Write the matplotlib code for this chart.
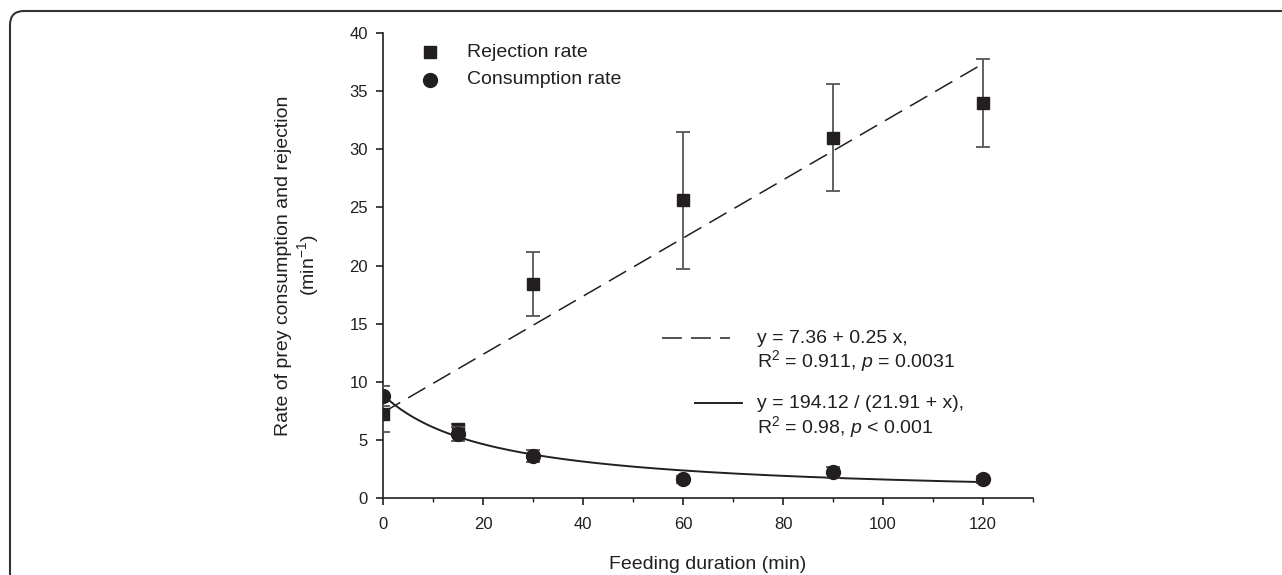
import matplotlib
matplotlib.use("Agg")
import matplotlib.pyplot as plt
import numpy as np
from matplotlib.patches import FancyBboxPatch
from matplotlib.transforms import IdentityTransform
from matplotlib.ticker import MultipleLocator

# data
duration = [0, 15, 30, 60, 90, 120]
rejection = [7.2, 5.9, 18.4, 25.6, 31.0, 34.0]
rejection_err = [1.5, 0.5, 2.75, 5.9, 4.6, 3.8]
consumption = [8.8, 5.5, 3.6, 1.6, 2.2, 1.6]
consumption_err = [0.85, 0.6, 0.5, 0.3, 0.5, 0.3]

# fitted models shown in the figure
lin_a, lin_b = 7.36, 0.25
hyp_a, hyp_b = 194.12, 21.91

plt.rcParams['font.family'] = ['Liberation Sans', 'DejaVu Sans']
plt.rcParams['mathtext.fontset'] = 'custom'
plt.rcParams['mathtext.rm'] = 'Liberation Sans'
plt.rcParams['mathtext.it'] = 'Liberation Sans:italic'

ink = '#231f20'
bar_col = '#555555'
fs = 14

fig = plt.figure(figsize=(12.82, 5.75), dpi=100)
ax = fig.add_axes([0.2988, 0.1339, 0.507, 0.8087])

xfit = np.linspace(0, 120, 200)
ax.plot(xfit, lin_a + lin_b * xfit, color=ink, lw=1.1, ls=(0, (13, 6)), zorder=2)
ax.plot(xfit, hyp_a / (hyp_b + xfit), color=ink, lw=1.4, zorder=2)

ax.errorbar(duration, rejection, yerr=rejection_err, fmt='s', ms=8, color=ink,
            ecolor=bar_col, elinewidth=1.3, capsize=5, capthick=1.3, zorder=3)
ax.errorbar(duration, consumption, yerr=consumption_err, fmt='o', ms=10, color=ink,
            ecolor=bar_col, elinewidth=1.3, capsize=5, capthick=1.3, zorder=4)

# legend drawn by hand like the original
ax.plot([0.072], [0.959], 's', ms=8, color=ink, transform=ax.transAxes, clip_on=False)
ax.plot([0.072], [0.899], 'o', ms=10, color=ink, transform=ax.transAxes, clip_on=False)
ax.text(0.129, 0.959, 'Rejection rate', transform=ax.transAxes, va='center', fontsize=fs, color=ink)
ax.text(0.129, 0.899, 'Consumption rate', transform=ax.transAxes, va='center', fontsize=fs, color=ink)

# fit equations
ax.plot([0.429, 0.534], [0.344, 0.344], color=ink, lw=1.1, ls=(0, (13, 6)), transform=ax.transAxes)
ax.plot([0.480, 0.552], [0.204, 0.204], color=ink, lw=1.4, transform=ax.transAxes)
ax.text(0.575, 0.344, 'y = 7.36 + 0.25 x,', transform=ax.transAxes, va='center', fontsize=fs, color=ink)
ax.text(0.575, 0.295, r'R$^{\mathregular{2}}$ = 0.911, $\mathit{p}$ = 0.0031', transform=ax.transAxes,
        va='center', fontsize=fs, color=ink)
ax.text(0.575, 0.204, 'y = 194.12 / (21.91 + x),', transform=ax.transAxes, va='center', fontsize=fs, color=ink)
ax.text(0.575, 0.152, r'R$^{\mathregular{2}}$ = 0.98, $\mathit{p}$ < 0.001', transform=ax.transAxes,
        va='center', fontsize=fs, color=ink)

ax.set_xlim(0, 130)
ax.set_ylim(0, 40)
ax.xaxis.set_minor_locator(MultipleLocator(10))
ax.yaxis.set_major_locator(MultipleLocator(5))
ax.set_xticks([0, 20, 40, 60, 80, 100, 120])

for s in ['top', 'right']:
    ax.spines[s].set_visible(False)
for s in ['left', 'bottom']:
    ax.spines[s].set_linewidth(1.2)
    ax.spines[s].set_color(ink)
ax.tick_params(axis='both', which='major', length=5, width=1.2, color=ink, labelsize=12, labelcolor=ink)
ax.tick_params(axis='x', which='major', pad=9)
ax.tick_params(axis='y', which='major', pad=6)
ax.tick_params(axis='x', which='minor', length=3, width=1.0, color=ink)

ax.set_xlabel('Feeding duration (min)', fontsize=fs, color=ink, labelpad=17)
ax.set_ylabel('Rate of prey consumption and rejection\n(min$^{\\mathregular{-1}}$)', fontsize=fs,
              color=ink, labelpad=20, multialignment='center')

# rounded frame around the panel
frame = FancyBboxPatch((10, -60), 1400, 575 - 11 + 60, boxstyle='round,pad=0,rounding_size=14',
                       transform=IdentityTransform(), fill=False, edgecolor='#333333', lw=1.5)
fig.add_artist(frame)

fig.savefig('out.png', dpi=100)
